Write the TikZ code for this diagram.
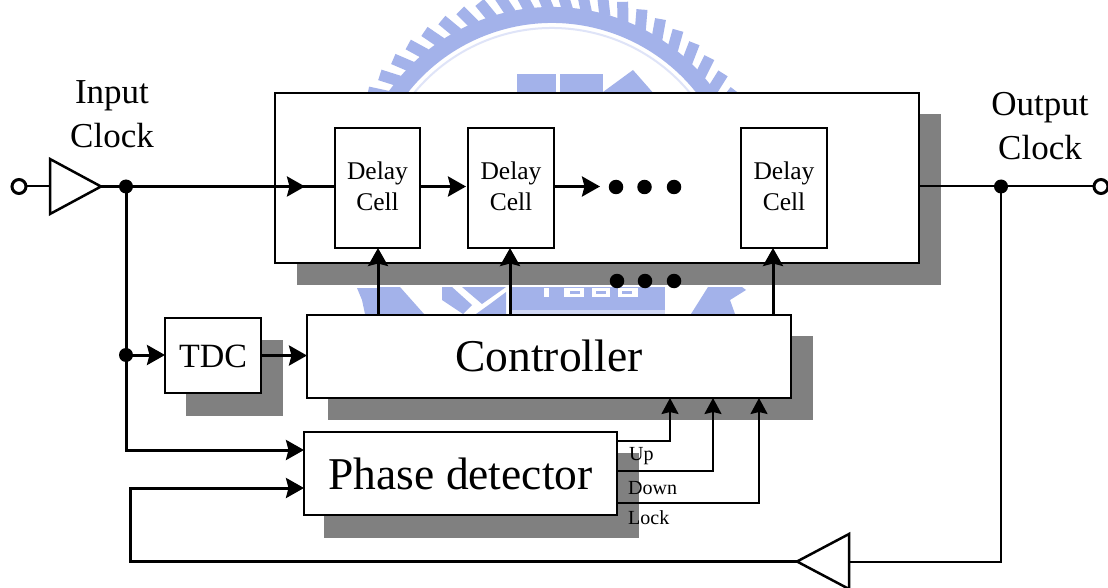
\documentclass[tikz,border=0pt]{standalone}
\usepackage{fontspec}
\setmainfont{Liberation Serif}
\usetikzlibrary{arrows.meta,calc}
\definecolor{wm}{HTML}{A3B2EA}
\definecolor{shade}{HTML}{808080}
\newcommand{\fsz}[1]{\fontsize{#1}{#1}\selectfont}
\tikzset{
  x=1pt,y=-1pt,
  blockbox/.style={draw=black,fill=white,line width=2pt,inner sep=0pt,outer sep=0pt},
  shadowbox/.style={fill=shade,draw=none},
  wire/.style={line width=3pt,line join=miter},
  thinwire/.style={line width=2pt,line join=miter},
  tip/.style={-{Stealth[length=18pt,width=20pt,inset=2.5pt]}},
  tipsmall/.style={-{Stealth[length=16pt,width=17pt,inset=2pt]}},
  junction/.style={circle,fill=black,inner sep=0pt,minimum size=14pt},
  terminal/.style={circle,draw=black,fill=white,line width=3pt,inner sep=0pt,minimum size=14pt,outer sep=0pt},
  ddot/.style={circle,fill=black,inner sep=0pt,minimum size=14.5pt},
  buffer/.style={draw=black,fill=white,line width=2.5pt,line join=miter},
  txt/.style={anchor=base,inner sep=0pt,font=\fsz{35}},
  celltxt/.style={anchor=base,inner sep=0pt,font=\fsz{25.5}},
  sigtxt/.style={anchor=base west,inner sep=0pt,font=\fsz{20}},
}
\begin{document}
\begin{tikzpicture}
\useasboundingbox (0,0) rectangle (1108,588);
\fill[white] (0,0) rectangle (1108,588);
% watermark behind the diagram
\begin{scope}
\clip (0,0) rectangle (1108,588);
\fill[wm] ({552+184*cos(20)},{207-184*sin(20)}) arc[start angle=-20,end angle=-160,radius=184]
  -- ({552+200*cos(160)},{207-200*sin(160)}) arc[start angle=-160,end angle=-20,radius=200] -- cycle;
\draw[wm!35,line width=2pt] ({552+179*cos(30)},{207-179*sin(30)}) arc[start angle=-30,end angle=-150,radius=179];
\foreach \a in {25,30.5,...,156}{
  \draw[wm,line width=11pt] ({552+198*cos(\a)},{207-198*sin(\a)}) -- ({552+217*cos(\a+2)},{207-217*sin(\a+2)});
}
\fill[wm] (517,74) rectangle (556,95);
\fill[wm] (560,74) rectangle (603,95);
\fill[wm] (603,92) -- (633,70) -- (655,95) -- cycle;
\fill[wm] (357,288) -- (377,288) -- (377,314) -- (365,314) -- (362,300) -- cycle;
\fill[wm] (380,287) -- (400,287) -- (424,314) -- (380,314) -- cycle;
\fill[wm] (442,287) -- (452,287) -- (472,305) -- (463,314) -- (442,300) -- cycle;
\fill[wm] (462,287) -- (506,287) -- (482,304) -- cycle;
\fill[wm] (476,314) -- (490,304) -- (506,292) -- (506,314) -- cycle;
\fill[wm] (511,287) rectangle (665,310);
\fill[wm!50] (511,310) rectangle (665,315);
\fill[white] (544,288) rectangle (549,297);
\fill[white] (564,288) rectangle (584,297);
\fill[white] (592,288) rectangle (610,297);
\fill[white] (618,288) rectangle (638,297);
\fill[wm] (570,291) rectangle (580,294);
\fill[wm] (596,291) rectangle (606,294);
\fill[wm] (622,291) rectangle (632,294);
\fill[wm] (691,314) -- (708,287) -- (742,287) -- (746,290) -- (730,300) -- (735,314) -- cycle;
\end{scope}
% shadows
\fill[shadowbox] (297,114) rectangle (941,285);
\fill[shadowbox] (186,340) rectangle (283,416);
\fill[shadowbox] (328,336) rectangle (813,420);
\fill[shadowbox] (324,453) rectangle (639,538);
% blocks
\node[blockbox,minimum width=644pt,minimum height=170pt] (line) at (597,178) {};
\node[blockbox,minimum width=85pt,minimum height=120pt] (c1) at (377.5,188) {};
\node[blockbox,minimum width=86pt,minimum height=120pt] (c2) at (511,188) {};
\node[blockbox,minimum width=86pt,minimum height=120pt] (c3) at (784,188) {};
\node[blockbox,minimum width=96pt,minimum height=75pt,font=\fsz{34},text height=23pt,text depth=0pt] (tdc) at (213,355.5) {TDC};
\node[blockbox,minimum width=484pt,minimum height=83pt,font=\fsz{45.5},text height=29pt,text depth=0pt] (ctrl) at (549,356.5) {Controller};
\node[blockbox,minimum width=313pt,minimum height=83pt,font=\fsz{45.5},text height=31pt,text depth=0pt] (pd) at (460.5,473.5) {Phase detector};
% cell texts
\node[celltxt] (t1a) at (377.5,180) {Delay};
\node[celltxt] (t1b) at (377.5,211) {Cell};
\node[celltxt] (t2a) at (511,180) {Delay};
\node[celltxt] (t2b) at (511,211) {Cell};
\node[celltxt] (t3a) at (784,180) {Delay};
\node[celltxt] (t3b) at (784,211) {Cell};
% clock labels
\node[txt] (in1) at (112,104) {Input};
\node[txt] (in2) at (112,148) {Clock};
\node[txt] (out1) at (1040,116) {Output};
\node[txt] (out2) at (1040,160) {Clock};
% signal labels
\node[sigtxt] (up) at (629,460) {Up};
\node[sigtxt] (down) at (628,494) {Down};
\node[sigtxt] (lock) at (628,524) {Lock};
% buffers
\draw[buffer] (50,159) -- (50,214) -- (101,186.5) -- cycle;
\draw[buffer] (849,534) -- (849,589) -- (797,561.5) -- cycle;
\coordinate (bufinW) at (50,186.5);
\coordinate (bufinE) at (101,186.5);
\coordinate (bufoutE) at (849,561.5);
\coordinate (bufoutW) at (797,561.5);
% terminals and junctions
\node[terminal] (inT) at (19,186.5) {};
\node[terminal] (outT) at (1101,186.5) {};
\node[junction] (j1) at (126,186.5) {};
\node[junction] (j2) at (126,355) {};
\node[junction] (j3) at (1001,186.5) {};
% wires
\coordinate (midIn) at (305,186.5);
\coordinate (a1) at (466,186.5);
\coordinate (a2) at (600,186.5);
\coordinate (pdA) at (126,450);
\coordinate (pdB) at (130,488);
\coordinate (pdBot) at (130,561.5);
\coordinate (upC) at (670,441);
\coordinate (downC) at (713,471);
\coordinate (lockC) at (759,503);
\draw[thinwire] (inT.east) -- (bufinW);
\draw[wire] (bufinE) -- (j1.center);
\draw[wire] (j1.center) -- (c1.west |- j1);
\draw[wire,tip] (j1.center) -- (midIn);
\draw[wire,tip] (c1.east |- a1) -- (a1);
\draw[wire,tip] (c2.east |- a2) -- (a2);
\draw[wire,tip] (j1.center) -- (pdA) -- (pdA -| pd.west);
\draw[wire,tip] (j2.center) -- (tdc.west |- j2);
\draw[wire,tip] (tdc.east) -- (tdc.east -| ctrl.west);
\draw[wire,tip] (378,315) -- (c1.south -| 378,0);
\draw[wire,tip] (510,315) -- (c2.south -| 510,0);
\draw[wire,tip] (773,315) -- (c3.south -| 773,0);
\draw[thinwire] (line.east |- j3) -- (j3.center);
\draw[thinwire] (j3.center) -- (outT.west);
\draw[thinwire] (j3.center) -- (1001,561.5) -- (bufoutE);
\draw[wire,tip] (bufoutW) -- (pdBot) -- (pdB) -- (pdB -| pd.west);
\draw[thinwire,tipsmall] (pd.east |- upC) -- (upC) -- (upC |- ctrl.south);
\draw[thinwire,tipsmall] (pd.east |- downC) -- (downC) -- (downC |- ctrl.south);
\draw[thinwire,tipsmall] (pd.east |- lockC) -- (lockC) -- (lockC |- ctrl.south);
% ellipsis dots
\node[ddot] (d1) at (616,187) {};
\node[ddot] (d2) at (644.5,187) {};
\node[ddot] (d3) at (674,187) {};
\node[ddot] (d4) at (617,281) {};
\node[ddot] (d5) at (645,281) {};
\node[ddot] (d6) at (674,281) {};
\end{tikzpicture}
\end{document}
